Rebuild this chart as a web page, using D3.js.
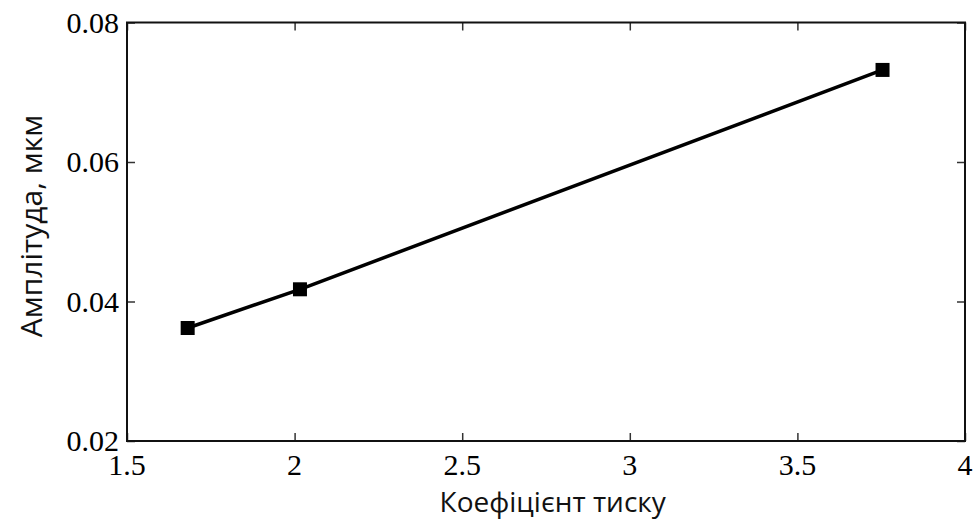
<!DOCTYPE html>
<html>
<head>
<meta charset="utf-8">
<title>Амплітуда</title>
<script src="https://d3js.org/d3.v7.min.js"></script>
<style>
  body { margin: 0; background: #fff; }
</style>
</head>
<body>
<div id="main"></div>
<script>
	// data
	var pressureCoef = [1.681, 2.016, 3.754];
	var amplitude    = [0.0362, 0.04175, 0.0732];
	var xTicks       = [1.5, 2, 2.5, 3, 3.5, 4];
	var yTicks       = [0.02, 0.04, 0.06, 0.08];
	var xTickLabels  = ["1.5", "2", "2.5", "3", "3.5", "4"];
	var yTickLabels  = ["0.02", "0.04", "0.06", "0.08"];
	var xTitle       = "Коефіцієнт тиску";
	var yTitle       = "Амплітуда, мкм";

	var screenWidth  = 978;
	var screenHeight = 521;
	var margin = {left: 127, top: 22.5, right: 13, bottom: 80};
	var innerWidth  = screenWidth - margin.left - margin.right;
	var innerHeight = screenHeight - margin.top - margin.bottom;

	var xScale = d3.scaleLinear().domain([1.5, 4]).range([0, innerWidth]);
	var yScale = d3.scaleLinear().domain([0.02, 0.08]).range([innerHeight, 0]);

	var svg = d3.select("#main").append("svg")
		.attr("width", screenWidth)
		.attr("height", screenHeight);

	var g = svg.append("g")
		.attr("transform", "translate(" + margin.left + "," + margin.top + ")");

	var tickLen = 8;
	var serif = "'Liberation Serif', 'Times New Roman', serif";
	var sans  = "'Open Sans', sans-serif";

	// axes: ticks pointing inward, labels placed separately
	var xBottom = d3.axisBottom(xScale).tickValues(xTicks).tickSize(-tickLen).tickFormat("");
	var xTop    = d3.axisTop(xScale).tickValues(xTicks).tickSize(-tickLen).tickFormat("");
	var yLeft   = d3.axisLeft(yScale).tickValues(yTicks).tickSize(-tickLen).tickFormat("");
	var yRight  = d3.axisRight(yScale).tickValues(yTicks).tickSize(-tickLen).tickFormat("");

	g.append("g").attr("transform", "translate(0," + innerHeight + ")").call(xBottom);
	g.append("g").call(xTop);
	g.append("g").call(yLeft);
	g.append("g").attr("transform", "translate(" + innerWidth + ",0)").call(yRight);

	g.selectAll(".domain").remove();
	g.selectAll(".tick line").attr("stroke", "#333").attr("stroke-width", 1.5);

	// frame
	g.append("rect")
		.attr("x", 0).attr("y", 0)
		.attr("width", innerWidth).attr("height", innerHeight)
		.attr("fill", "none").attr("stroke", "#111").attr("stroke-width", 2);

	// tick labels
	g.selectAll(".xlab").data(xTicks).enter().append("text")
		.attr("x", d => xScale(d))
		.attr("y", innerHeight + 34)
		.attr("text-anchor", "middle")
		.style("font-family", serif).style("font-size", "30px")
		.text((d, i) => xTickLabels[i]);

	g.selectAll(".ylab").data(yTicks).enter().append("text")
		.attr("x", -8)
		.attr("y", d => yScale(d) + 10)
		.attr("text-anchor", "end")
		.style("font-family", serif).style("font-size", "30px")
		.text((d, i) => yTickLabels[i]);

	// axis titles
	svg.append("text")
		.attr("x", margin.left + xScale(2.77))
		.attr("y", 512)
		.attr("text-anchor", "middle")
		.style("font-family", sans).style("font-size", "28px")
		.attr("fill", "#111")
		.text(xTitle);

	svg.append("text")
		.attr("transform", "translate(42,226) rotate(-90)")
		.attr("text-anchor", "middle")
		.style("font-family", sans).style("font-size", "30px")
		.attr("fill", "#111")
		.text(yTitle);

	// line and markers
	var pts = pressureCoef.map((x, i) => [x, amplitude[i]]);
	var line = d3.line().x(d => xScale(d[0])).y(d => yScale(d[1]));

	g.append("path")
		.datum(pts)
		.attr("d", line)
		.attr("fill", "none")
		.attr("stroke", "#000")
		.attr("stroke-width", 3.5);

	var ms = 14;
	g.selectAll(".marker").data(pts).enter().append("rect")
		.attr("x", d => xScale(d[0]) - ms / 2)
		.attr("y", d => yScale(d[1]) - ms / 2)
		.attr("width", ms).attr("height", ms)
		.attr("fill", "#000");
</script>
</body>
</html>
